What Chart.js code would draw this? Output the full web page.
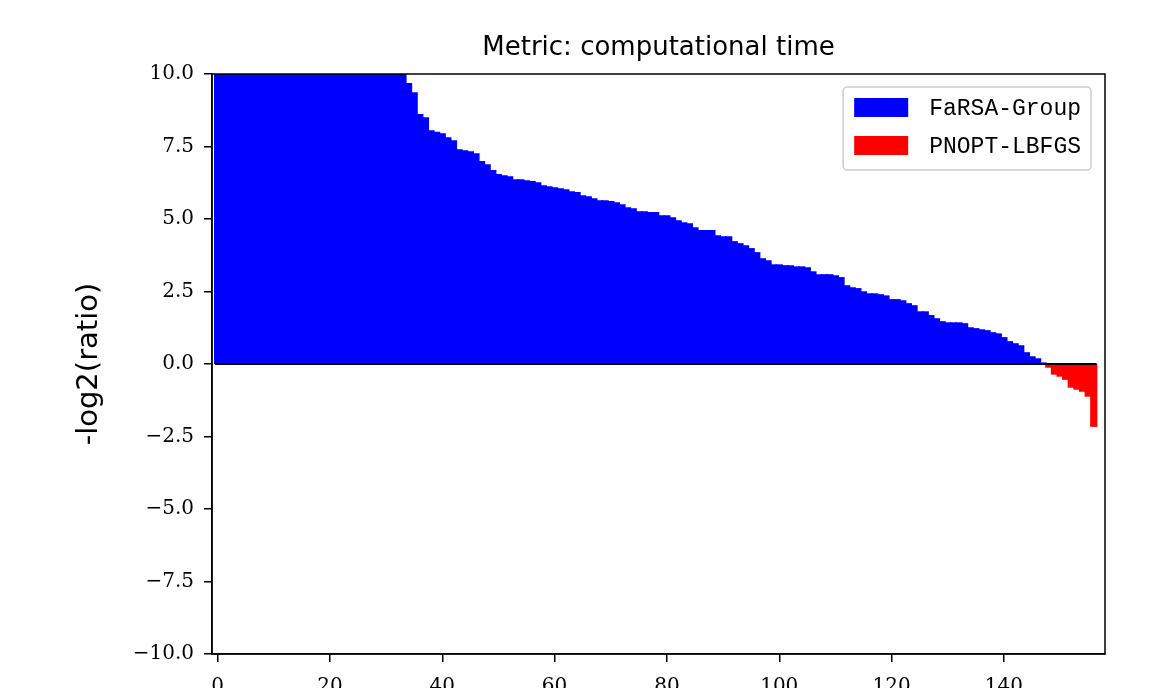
<!DOCTYPE html>
<html>
<head>
<meta charset="utf-8">
<title>Metric: computational time</title>
<script src="https://cdn.jsdelivr.net/npm/chart.js@4.4.1/dist/chart.umd.min.js"></script>
<style>
  html, body { margin: 0; padding: 0; background: #fff; }
  #wrap { width: 1157px; height: 688px; }
</style>
</head>
<body>
<div id="wrap"><canvas id="chart" width="1157" height="688"></canvas></div>
<script>
// -log2(time ratio) per problem, sorted (first 34 bars run past the 10.0 limit)
const farsaGroup = [
  10, 10, 10, 10, 10, 10, 10, 10, 10, 10,
  10, 10, 10, 10, 10, 10, 10, 10, 10, 10,
  10, 10, 10, 10, 10, 10, 10, 10, 10, 10,
  10, 10, 10, 10, 9.66, 9.34, 8.59, 8.48, 8.03, 7.98,
  7.93, 7.79, 7.69, 7.38, 7.34, 7.31, 7.24, 6.97, 6.86, 6.66,
  6.52, 6.48, 6.45, 6.34, 6.34, 6.31, 6.28, 6.24, 6.14, 6.10,
  6.07, 6.03, 6.00, 5.93, 5.90, 5.79, 5.76, 5.69, 5.62, 5.62,
  5.59, 5.55, 5.48, 5.38, 5.34, 5.24, 5.24, 5.21, 5.21, 5.10,
  5.10, 5.03, 4.93, 4.86, 4.83, 4.69, 4.59, 4.59, 4.59, 4.41,
  4.38, 4.38, 4.21, 4.14, 4.07, 3.97, 3.83, 3.62, 3.55, 3.41,
  3.41, 3.38, 3.38, 3.34, 3.34, 3.31, 3.17, 3.07, 3.07, 3.07,
  3.03, 2.97, 2.69, 2.62, 2.59, 2.48, 2.41, 2.41, 2.38, 2.34,
  2.21, 2.21, 2.17, 2.07, 2.00, 1.79, 1.79, 1.66, 1.55, 1.45,
  1.41, 1.41, 1.41, 1.38, 1.24, 1.21, 1.17, 1.14, 1.07, 1.03,
  0.90, 0.76, 0.69, 0.62, 0.38, 0.24, 0.17, 0.02
];
const pnoptLbfgs = [-0.10, -0.34, -0.41, -0.52, -0.79, -0.86, -0.93, -1.10, -2.14];

const xTickValues = [0, 20, 40, 60, 80, 100, 120, 140];
const yTickValues = [-10, -7.5, -5, -2.5, 0, 2.5, 5, 7.5, 10];

const serif = '"DejaVu Serif", serif';
const sans = '"DejaVu Sans", sans-serif';
const mono = '"Liberation Mono", monospace';

// box around the plot plus the zero line under the bars
const framePlugin = {
  id: 'frame',
  afterDatasetsDraw(chart) {
    const { ctx, chartArea: a, scales: { x, y } } = chart;
    const n = farsaGroup.length + pnoptLbfgs.length;
    ctx.save();
    ctx.strokeStyle = '#000';
    ctx.lineWidth = 2;
    ctx.beginPath();
    ctx.moveTo(x.getPixelForValue(-0.5), y.getPixelForValue(0));
    ctx.lineTo(x.getPixelForValue(n - 0.5), y.getPixelForValue(0));
    ctx.stroke();
    ctx.lineWidth = 1.5;
    ctx.strokeRect(a.left, a.top, a.right - a.left, a.bottom - a.top);
    ctx.restore();
  }
};

// title centred over the plot area
const titlePlugin = {
  id: 'plotTitle',
  afterDraw(chart) {
    const { ctx, chartArea: a } = chart;
    ctx.save();
    ctx.fillStyle = '#000';
    ctx.font = '26px ' + sans;
    ctx.textAlign = 'center';
    ctx.textBaseline = 'middle';
    ctx.fillText('Metric: computational time', (a.left + a.right) / 2, 48);
    ctx.restore();
  }
};

// matplotlib-like legend box in the upper right corner
const legendPlugin = {
  id: 'boxLegend',
  afterDraw(chart) {
    const { ctx, chartArea: a } = chart;
    const sets = chart.data.datasets;
    ctx.save();
    ctx.font = '23px ' + mono;
    const textW = Math.max(...sets.map(d => ctx.measureText(d.label).width));
    const w = 11 + 54 + 21 + textW + 10;
    const h = 83;
    const left = a.right - 14 - w;
    const top = a.top + 13;
    ctx.fillStyle = 'rgba(255,255,255,0.8)';
    ctx.strokeStyle = '#cccccc';
    ctx.lineWidth = 1.5;
    ctx.beginPath();
    ctx.roundRect(left, top, w, h, 4);
    ctx.fill();
    ctx.stroke();
    sets.forEach((d, i) => {
      const py = top + 11 + i * 38;
      ctx.fillStyle = d.backgroundColor;
      ctx.fillRect(left + 11, py, 54, 19);
      ctx.fillStyle = '#000';
      ctx.textAlign = 'left';
      ctx.textBaseline = 'middle';
      ctx.fillText(d.label, left + 86, py + 11);
    });
    ctx.restore();
  }
};

new Chart(document.getElementById('chart'), {
  type: 'bar',
  data: {
    datasets: [
      {
        label: 'FaRSA-Group',
        data: farsaGroup.map((v, i) => ({ x: i, y: v })),
        backgroundColor: '#0000ff',
        grouped: false,
        barPercentage: 1,
        categoryPercentage: 1,
        inflateAmount: 0.8
      },
      {
        label: 'PNOPT-LBFGS',
        data: pnoptLbfgs.map((v, i) => ({ x: farsaGroup.length + i, y: v })),
        backgroundColor: '#ff0000',
        grouped: false,
        barPercentage: 1,
        categoryPercentage: 1,
        inflateAmount: 0.8
      }
    ]
  },
  options: {
    responsive: false,
    animation: false,
    devicePixelRatio: 1,
    layout: { padding: { top: 74, right: 52, bottom: 0, left: 0 } },
    plugins: { legend: { display: false }, tooltip: { enabled: false } },
    scales: {
      x: {
        type: 'linear',
        min: -1,
        max: 158,
        offset: false,
        afterBuildTicks: s => { s.ticks = xTickValues.map(v => ({ value: v })); },
        afterFit: s => { s.height = 34; },
        grid: { offset: false, drawOnChartArea: false, tickLength: 8, color: '#000', lineWidth: 1.5 },
        border: { display: true, color: '#000', width: 1.5 },
        ticks: {
          color: '#000',
          padding: 13,
          font: { family: serif, size: 20 },
          maxRotation: 0,
          callback: v => String(v)
        }
      },
      y: {
        min: -10,
        max: 10,
        afterBuildTicks: s => { s.ticks = yTickValues.map(v => ({ value: v })); },
        afterFit: s => { s.width = 212; },
        grid: { drawOnChartArea: false, tickLength: 8, color: '#000', lineWidth: 1.5 },
        border: { display: true, color: '#000', width: 1.5 },
        ticks: {
          color: '#000',
          padding: 10,
          font: { family: serif, size: 20 },
          callback: v => v.toFixed(1).replace('-', '\u2212')
        },
        title: {
          display: true,
          text: '-log2(ratio)',
          color: '#000',
          font: { family: sans, size: 29 },
          padding: { top: 72, bottom: 0 }
        }
      }
    }
  },
  plugins: [framePlugin, titlePlugin, legendPlugin]
});
</script>
</body>
</html>
